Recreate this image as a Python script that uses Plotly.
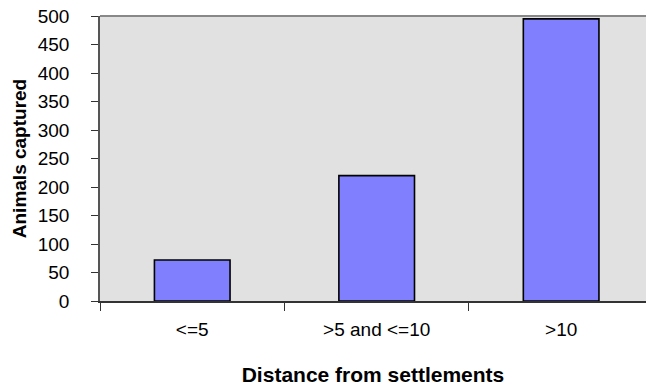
import plotly.graph_objects as go

categories = ["<=5", ">5 and <=10", ">10"]
animals_captured = [72, 220, 495]
y_ticks = [0, 50, 100, 150, 200, 250, 300, 350, 400, 450, 500]

fig = go.Figure()
fig.add_trace(go.Bar(
    x=categories,
    y=animals_captured,
    width=0.41,
    marker=dict(color="#8080FF", line=dict(color="#000000", width=1.6)),
))

font_family = "Liberation Sans, Arial, sans-serif"
fig.update_layout(
    width=646, height=388,
    margin=dict(l=100, r=0, t=16, b=87),
    paper_bgcolor="white",
    plot_bgcolor="#E1E1E1",
    showlegend=False,
    font=dict(family=font_family, color="black", size=18),
    xaxis=dict(
        type="category",
        range=[-0.5, 2.46],
        tickson="boundaries",
        ticks="outside", ticklen=8, tickcolor="#333333", tickwidth=1,
        showline=True, linecolor="#333333", linewidth=2,
        showgrid=False, zeroline=False,
        tickfont=dict(size=19),
        ticklabelstandoff=10,
        title=dict(text="<b>Distance from settlements</b>", font=dict(size=21), standoff=29),
    ),
    yaxis=dict(
        range=[0, 500],
        tickvals=y_ticks,
        ticks="outside", ticklen=7, tickcolor="#333333", tickwidth=1,
        showline=True, linecolor="#555555", linewidth=1.5,
        showgrid=False, zeroline=False,
        tickfont=dict(size=19),
        ticklabelstandoff=18,
        title=dict(text="<b>Animals captured</b>", font=dict(size=19), standoff=6),
    ),
    shapes=[dict(type="line", xref="paper", yref="paper", x0=0, x1=1, y0=1, y1=1,
                 line=dict(color="#888888", width=2))],
)

fig.write_html(
    "out.html",
    config={"displayModeBar": False},
    post_script=(
        "document.documentElement.style.overflow='hidden';"
        "document.documentElement.style.margin='0';"
        "document.body.style.margin='0';"
        "document.body.style.overflow='hidden';"
    ),
)
